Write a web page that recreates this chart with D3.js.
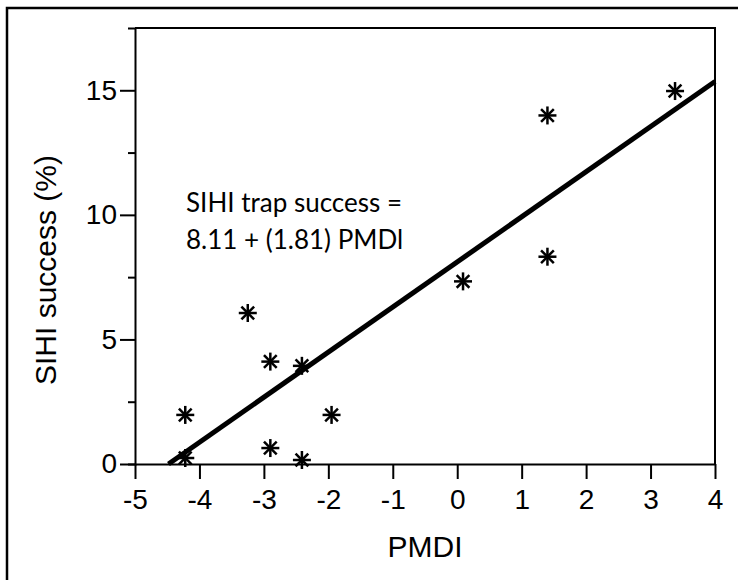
<!DOCTYPE html>
<html>
<head>
<meta charset="utf-8">
<script src="https://cdn.jsdelivr.net/npm/d3@7"></script>
<style>
  html, body { margin: 0; padding: 0; background: #fff; }
  svg { display: block; }
</style>
</head>
<body>
<svg id="chart" width="738" height="580"></svg>
<script>
// PMDI vs SIHI trap success, with fitted line
const pmdi    = [-4.22, -4.22, -3.25, -2.90, -2.90, -2.41, -2.41, -1.95, 0.09, 1.40, 1.40, 3.38];
const success = [ 1.97,  0.24,  6.06,  4.11,  0.64,  3.94,  0.16,  1.97, 7.33, 8.32, 13.99, 14.97];

const xTicks = [-5, -4, -3, -2, -1, 0, 1, 2, 3, 4];
const yTicks = [0, 5, 10, 15];
const yMinorTicks = [2.5, 7.5, 12.5];

const intercept = 8.11;
const slope = 1.81;

const xLabel = "PMDI";
const yLabel = "SIHI success (%)";
const noteLines = ["SIHI trap success =", "8.11 + (1.81) PMDl"];

const svg = d3.select("#chart");
const plotLeft = 135, plotRight = 715, plotTop = 28, plotBottom = 464;

const x = d3.scaleLinear().domain([-5, 4]).range([plotLeft, plotRight]);
const y = d3.scaleLinear().domain([0, 17.5]).range([plotBottom, plotTop]);

const font = "'Liberation Sans', Arial, sans-serif";
const plain = d => String(d);   // keep an ASCII hyphen for negatives

// outer frame
svg.append("rect")
  .attr("x", 7).attr("y", 8).attr("width", 900).attr("height", 900)
  .attr("fill", "none").attr("stroke", "#000").attr("stroke-width", 2.5);

// plot frame (top and right edges)
svg.append("path")
  .attr("d", `M${plotLeft},${plotTop}H${plotRight}V${plotBottom}`)
  .attr("fill", "none").attr("stroke", "#000").attr("stroke-width", 2);

// y axis minor ticks
const yMinor = svg.append("g").attr("transform", `translate(${plotLeft},0)`)
  .call(d3.axisLeft(y).tickValues(yMinorTicks).tickSize(7).tickFormat(""));
yMinor.select(".domain").remove();
yMinor.selectAll("line").attr("stroke-width", 2);

// y axis
const yAxis = svg.append("g").attr("transform", `translate(${plotLeft},0)`)
  .call(d3.axisLeft(y).tickValues(yTicks).tickSize(15).tickSizeOuter(7).tickPadding(3).tickFormat(plain));
yAxis.select(".domain").attr("stroke-width", 2);
yAxis.selectAll(".tick line").attr("stroke-width", 2);
yAxis.selectAll("text").attr("font-family", font).attr("font-size", 28).attr("fill", "#000");

// x axis
const xAxis = svg.append("g").attr("transform", `translate(0,${plotBottom})`)
  .call(d3.axisBottom(x).tickValues(xTicks).tickSize(15).tickSizeOuter(0).tickPadding(10).tickFormat(plain));
xAxis.select(".domain").attr("stroke-width", 2);
xAxis.selectAll(".tick line").attr("stroke-width", 2);
xAxis.selectAll("text").attr("font-family", font).attr("font-size", 28).attr("fill", "#000");

// axis titles
svg.append("text")
  .attr("x", 425).attr("y", 557)
  .attr("text-anchor", "middle")
  .attr("font-family", font).attr("font-size", 30)
  .text(xLabel);

svg.append("text")
  .attr("transform", "translate(56,270) rotate(-90)")
  .attr("text-anchor", "middle")
  .attr("font-family", font).attr("font-size", 30)
  .text(yLabel);

// regression line, from where it meets y = 0 to the right edge
const x0 = -intercept / slope;
svg.append("line")
  .attr("x1", x(x0)).attr("y1", y(intercept + slope * x0))
  .attr("x2", x(4)).attr("y2", y(intercept + slope * 4))
  .attr("stroke", "#000").attr("stroke-width", 5);

// asterisk markers
const r = 9;
const arms = [0, 45, 90, 135];
const pts = svg.append("g");
pmdi.forEach((v, i) => {
  const g = pts.append("g").attr("transform", `translate(${x(v)},${y(success[i])})`);
  arms.forEach(a => {
    const t = a * Math.PI / 180;
    g.append("line")
      .attr("x1", -r * Math.cos(t)).attr("y1", -r * Math.sin(t))
      .attr("x2", r * Math.cos(t)).attr("y2", r * Math.sin(t))
      .attr("stroke", "#000").attr("stroke-width", 2.5);
  });
});

// equation note
const note = svg.append("text")
  .attr("font-family", "Lato, 'Open Sans', sans-serif").attr("font-size", 26).attr("fill", "#000");
noteLines.forEach((s, i) => {
  note.append("tspan").attr("x", 186).attr("y", 212 + i * 37).text(s);
});
</script>
</body>
</html>
